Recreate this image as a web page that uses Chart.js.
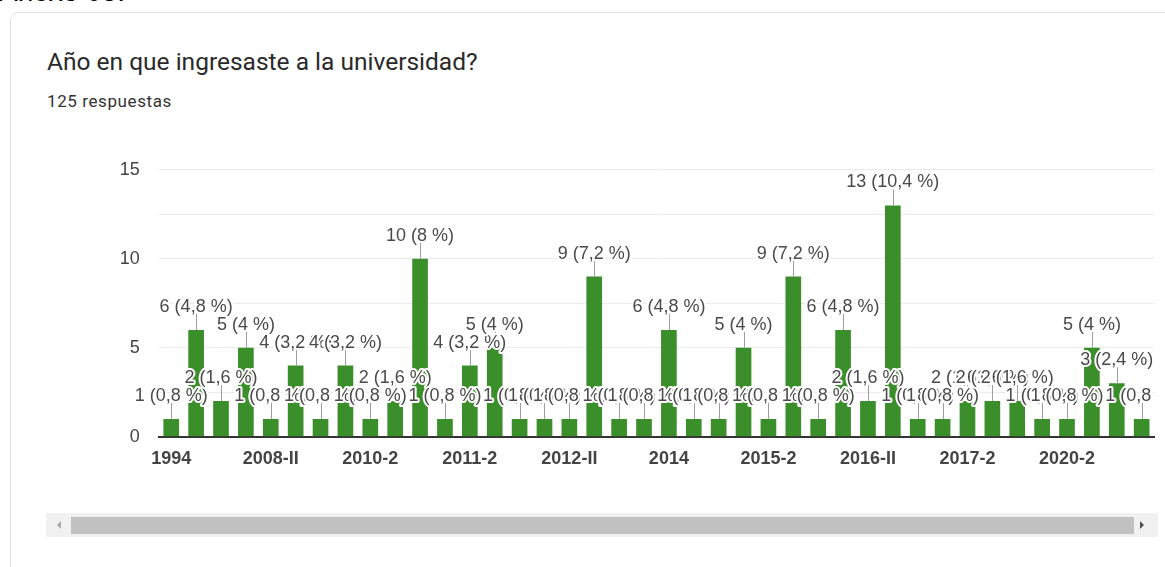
<!DOCTYPE html>
<html>
<head>
<meta charset="utf-8">
<script src="https://cdn.jsdelivr.net/npm/chart.js"></script>
<style>
  html, body { margin: 0; padding: 0; background: #fff; }
  body { width: 1165px; height: 567px; position: relative; overflow: hidden; font-family: Roboto, Arial, sans-serif; }
  .anexo { position: absolute; left: -1px; top: -24px; font: 28px "Liberation Sans", Arial, sans-serif; color: #000; }
  .card { position: absolute; left: 10px; top: 12px; width: 1200px; height: 620px; border: 1px solid #dde3de; border-radius: 8px; }
  .title { position: absolute; left: 47px; top: 47px; font-size: 24.5px; color: #2a2a2a; white-space: nowrap; }
  .count { position: absolute; left: 47px; top: 91px; font-size: 17px; letter-spacing: 0.6px; color: #333; white-space: nowrap; }
  #wrap { position: absolute; left: 0; top: 140px; width: 1165px; height: 340px; }
  .track { position: absolute; left: 46px; top: 513px; width: 1112px; height: 24px; background: #f1f1f1; }
  .thumb { position: absolute; left: 71px; top: 517px; width: 1063px; height: 17px; background: #c1c1c1; }
  .arr-l { position: absolute; left: 57px; top: 521px; width: 0; height: 0; border-top: 4px solid transparent; border-bottom: 4px solid transparent; border-right: 4px solid #a8a8a8; }
  .arr-r { position: absolute; left: 1140px; top: 521px; width: 0; height: 0; border-top: 4px solid transparent; border-bottom: 4px solid transparent; border-left: 4px solid #505050; }
</style>
</head>
<body>
<div class="anexo">Anexo 05:</div>
<div class="card"></div>
<div class="title">Año en que ingresaste a la universidad?</div>
<div class="count">125 respuestas</div>
<div id="wrap"><canvas id="chart"></canvas></div>
<div class="track"></div>
<div class="thumb"></div>
<div class="arr-l"></div>
<div class="arr-r"></div>

<script>
// categorias (solo se ve una de cada cuatro en el eje)
const categorias = [
    '1994', '2005', '2007', '2008',
    '2008-II', '2009', '2009-II', '2010',
    '2010-2', '2010-II', '2011', '2011-1',
    '2011-2', '2011-II', '2012', '2012-I',
    '2012-II', '2013', '2013-I', '2013-II',
    '2014', '2014-I', '2014-II', '2015',
    '2015-2', '2015-II', '2016', '2016-I',
    '2016-II', '2017', '2017-1', '2017-I',
    '2017-2', '2018', '2019', '2020',
    '2020-2', '2021', '2021-I', '2022'
];

const respuestas = [
    1, 6, 2, 5,
    1, 4, 1, 4,
    1, 2, 10, 1,
    4, 5, 1, 1,
    1, 9, 1, 1,
    6, 1, 1, 5,
    1, 9, 1, 6,
    2, 13, 1, 1,
    2, 2, 2, 1,
    1, 5, 3, 1
];

const ticksY = [0, 5, 10, 15];

const total = respuestas.reduce((a, b) => a + b, 0);

function formatPct(v) {
    const p = Math.round(v / total * 1000) / 10;
    return String(p).replace('.', ',');
}

// etiquetas con línea guía y halo blanco, como en Google Forms
const etiquetasPlugin = {
    id: 'etiquetas',
    afterDatasetsDraw(chart) {
        const ctx = chart.ctx;
        const meta = chart.getDatasetMeta(0);
        const area = chart.chartArea;
        ctx.save();
        ctx.beginPath();
        ctx.rect(0, 0, area.right + 1, chart.height);
        ctx.clip();

        ctx.strokeStyle = '#9e9e9e';
        ctx.lineWidth = 1;
        meta.data.forEach((bar) => {
            const x = Math.round(bar.x) + 0.5;
            ctx.beginPath();
            ctx.moveTo(x, bar.y - 16);
            ctx.lineTo(x, bar.y);
            ctx.stroke();
        });

        ctx.font = '18px "Liberation Sans", Arial, sans-serif';
        ctx.textAlign = 'center';
        ctx.textBaseline = 'alphabetic';
        ctx.lineJoin = 'round';
        meta.data.forEach((bar, i) => {
            const v = respuestas[i];
            const txt = v + ' (' + formatPct(v) + ' %)';
            const y = bar.y - 18;
            ctx.strokeStyle = '#fff';
            ctx.lineWidth = 4;
            ctx.strokeText(txt, bar.x, y);
            ctx.fillStyle = '#4a4a4a';
            ctx.fillText(txt, bar.x, y);
        });
        ctx.restore();
    }
};

const ctx = document.getElementById('chart').getContext('2d');
new Chart(ctx, {
    type: 'bar',
    data: {
        labels: categorias,
        datasets: [{
            data: respuestas,
            backgroundColor: '#3b8f2b',
            barPercentage: 0.63,
            categoryPercentage: 1
        }]
    },
    options: {
        responsive: true,
        maintainAspectRatio: false,
        animation: false,
        layout: {
            padding: { top: 28.7, right: 10.9, left: 0, bottom: 0 }
        },
        plugins: {
            legend: { display: false },
            tooltip: { enabled: false }
        },
        scales: {
            x: {
                grid: { display: false },
                border: { display: true, color: '#333', width: 2 },
                ticks: {
                    autoSkip: false,
                    maxRotation: 0,
                    padding: 4,
                    color: '#444',
                    font: { family: '"Liberation Sans", Arial, sans-serif', size: 18, weight: 'bold' },
                    callback: function(value, index) {
                        return index % 4 === 0 ? categorias[index] : '';
                    }
                },
                afterFit: function(scale) { scale.height = 43.3; }
            },
            y: {
                min: 0,
                max: 15,
                grid: { color: '#ebebeb', drawTicks: false },
                border: { display: false },
                ticks: {
                    stepSize: 2.5,
                    padding: 19,
                    color: '#444',
                    font: { family: '"Liberation Sans", Arial, sans-serif', size: 18 },
                    callback: function(value) {
                        return ticksY.includes(value) ? value : '';
                    }
                },
                afterFit: function(scale) { scale.width = 158.8; }
            }
        }
    },
    plugins: [etiquetasPlugin]
});
</script>
</body>
</html>
